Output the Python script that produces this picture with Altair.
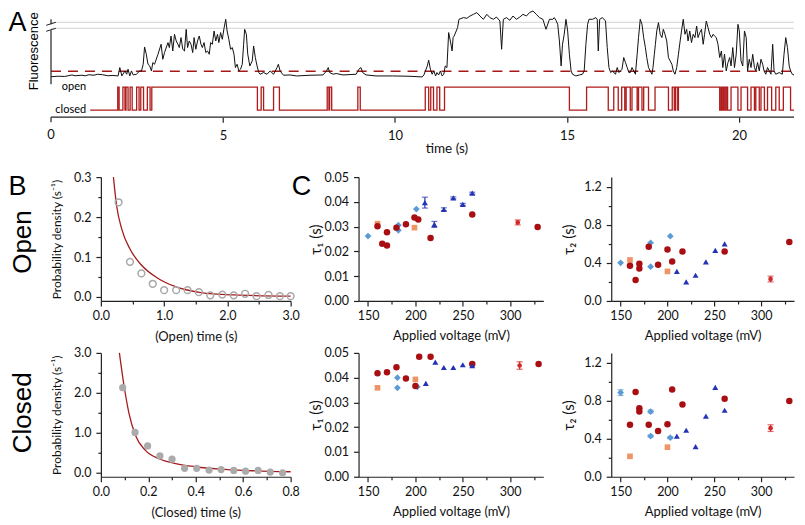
import altair as alt
import pandas as pd

# ---------------- Panel A: fluorescence trace (arbitrary units) ----------------
fluo_t = [0.00,0.20,0.40,0.61,0.70,0.90,1.00,1.10,1.25,1.35,
          1.50,1.65,1.80,1.95,2.00,2.06,2.15,2.20,2.24,2.29,
          2.34,2.39,2.48,2.58,2.63,2.68,2.72,2.77,2.82,2.87,
          2.92,2.96,3.01,3.11,3.20,3.25,3.30,3.40,3.44,3.49,
          3.54,3.59,3.64,3.69,3.73,3.78,3.83,3.88,3.93,3.97,
          4.02,4.07,4.12,4.16,4.21,4.26,4.31,4.36,4.40,4.45,
          4.50,4.55,4.60,4.64,4.69,4.74,4.79,4.84,4.88,4.93,
          4.98,5.03,5.08,5.12,5.17,5.22,5.27,5.32,5.36,5.41,
          5.46,5.51,5.56,5.60,5.63,5.68,5.72,5.78,5.85,5.89,
          5.94,5.99,6.04,6.08,6.18,6.28,6.37,6.47,6.57,6.61,
          6.66,6.76,6.95,7.14,7.53,7.91,8.01,8.06,8.10,8.20,
          8.29,8.49,8.87,8.95,9.01,9.06,9.16,9.45,9.93,10.41,
          10.79,
          10.84,10.94,10.98,11.03,11.08,11.13,11.18,11.22,11.27,11.32,
          11.37,11.42,11.46,11.51,11.56,11.61,11.66,11.69,11.72,11.78,
          11.82,11.86,11.99,12.09,12.18,12.28,12.38,12.47,12.57,12.67,
          12.76,12.86,12.95,13.05,13.10,13.15,13.24,13.34,13.43,13.53,
          13.63,13.72,13.82,13.91,14.01,14.11,14.20,14.30,14.39,14.49,
          14.59,14.63,14.68,14.73,14.78,14.83,14.87,14.92,14.97,15.02,
          15.07,15.12,15.16,15.26,15.36,15.45,15.50,15.55,15.60,15.64,
          15.74,15.84,15.88,15.91,15.95,16.03,16.12,16.17,16.22,16.27,
          16.32,16.41,16.46,16.51,16.60,16.65,16.70,16.75,16.80,16.84,
          16.89,16.99,17.04,17.08,17.13,17.18,17.23,17.28,17.32,17.37,
          17.42,17.47,17.50,17.54,17.57,17.61,17.66,17.71,17.76,17.80,
          17.85,17.90,17.95,18.00,18.05,18.09,18.14,18.19,18.24,18.29,
          18.33,18.38,18.43,18.48,18.52,18.57,18.62,18.67,18.72,18.77,
          18.81,18.86,18.91,18.96,19.00,19.05,19.10,19.15,19.20,19.25,
          19.29,19.34,19.39,19.44,19.49,19.53,19.58,19.63,19.68,19.73,
          19.77,19.82,19.87,19.92,19.97,20.01,20.06,20.11,20.16,20.21,
          20.25,20.30,20.35,20.40,20.45,20.49,20.54,20.59,20.64,20.69,
          20.73,20.78,20.83,20.93,20.98,21.02,21.07,21.17,21.26,21.31,
          21.36,21.41,21.46,21.50,21.55,21.60]
fluo_f = [40.5,41.0,40.8,42.3,41.5,42.0,41.5,42.5,42.0,43.0,
          42.5,41.5,41.8,41.3,49.7,41.3,46.3,43.0,48.0,41.3,
          46.3,42.3,43.0,46.3,46.3,53.0,70.3,63.0,53.0,51.3,
          46.3,54.7,53.0,63.0,73.0,58.0,64.7,74.7,69.7,81.3,
          66.3,83.0,76.3,73.0,69.7,79.7,68.0,66.3,88.0,69.7,
          76.3,73.0,64.7,79.7,68.0,76.3,81.3,73.0,69.7,74.7,
          64.7,66.3,63.0,74.7,73.0,86.3,76.3,83.0,74.7,84.7,
          78.0,89.0,98.0,86.3,78.0,68.0,69.7,63.0,49.7,53.0,
          46.3,48.0,53.0,73.0,88.0,83.0,63.0,51.3,56.3,71.3,
          59.7,51.3,44.7,43.0,44.7,43.0,46.3,43.0,49.7,53.0,
          46.3,42.0,42.3,41.3,42.0,42.3,46.3,49.7,44.7,43.0,
          43.7,42.3,43.0,48.0,49.7,44.7,42.3,41.3,41.3,41.0,
          40.3,
          42.3,51.3,57.0,48.0,43.0,46.3,41.3,44.7,42.3,46.3,
          41.3,43.0,51.3,49.7,84.7,76.3,66.3,79.7,81.3,86.3,
          89.7,98.0,99.7,99.0,101.3,103.0,104.7,101.3,98.0,103.0,
          99.7,98.0,100.3,96.3,68.0,98.0,99.7,97.0,101.3,98.0,
          100.3,103.0,101.3,104.7,106.3,103.0,99.7,98.0,88.0,98.0,
          98.0,99.7,97.0,93.0,76.3,51.3,73.0,83.0,98.0,86.3,
          63.0,46.3,43.0,41.3,42.3,43.0,46.3,73.0,93.0,98.0,
          98.0,99.7,98.0,66.3,98.0,99.7,96.3,69.7,49.7,44.7,
          46.3,43.0,49.7,44.7,48.0,59.7,54.7,49.7,44.7,44.7,
          49.7,43.0,63.0,79.7,98.0,93.0,79.7,69.7,59.7,49.7,
          46.3,43.0,49.7,63.0,73.0,86.3,94.7,83.0,79.7,88.0,
          83.0,76.3,59.7,56.3,53.0,46.3,43.0,49.7,63.0,76.3,
          86.3,98.0,83.0,88.0,76.3,86.3,74.7,83.0,79.7,91.3,
          79.7,84.7,88.0,73.0,83.0,96.3,89.7,83.0,79.7,83.0,
          81.3,79.7,73.0,59.7,66.3,49.7,63.0,46.3,54.7,59.7,
          51.3,69.7,49.7,63.0,93.0,86.3,56.3,51.3,86.3,79.7,
          46.3,58.0,49.7,63.0,49.7,46.3,54.7,46.3,58.0,53.0,
          46.3,43.0,49.7,43.0,73.0,46.3,43.0,44.7,43.0,63.0,
          79.7,69.7,51.3,46.3,43.0,42.3]

# idealised open/closed state (times in s)
state_start, state_end = 1.14, 21.6
open_start = [1.94, 2.09, 2.18, 2.30, 2.49, 2.61, 2.80, 2.93, 6.11, 6.47, 8.03, 8.10, 8.92,
              10.88, 11.04, 11.22, 11.44, 15.57, 16.36, 16.59, 16.72, 16.89, 17.08, 17.23,
              17.56, 18.06, 18.16, 18.24, 19.48, 19.55, 19.63, 19.77, 20.06, 20.35, 20.49,
              20.64, 20.83, 21.07, 21.29]
open_end = [1.98, 2.15, 2.24, 2.36, 2.56, 2.69, 2.88, 6.00, 6.18, 6.64, 8.08, 8.16, 8.99,
            10.98, 11.12, 11.30, 15.07, 16.20, 16.49, 16.68, 16.84, 17.04, 17.18, 17.37,
            17.95, 18.12, 18.22, 19.44, 19.51, 19.59, 19.67, 19.97, 20.25, 20.45, 20.59,
            20.74, 20.95, 21.17, 21.50]
closed_level, open_level = 7, 30
threshold_level = 46
break_levels = [89, 95]
time_ticks = [0, 5, 10, 15, 20]
t_end = 21.6

# ---------------- Panel B: dwell-time histograms ----------------
open_bin_t = [0.28, 0.46, 0.64, 0.82, 1.00, 1.19, 1.37, 1.55, 1.73, 1.92, 2.10, 2.28, 2.46, 2.65, 2.83, 3.00]
open_bin_p = [0.237, 0.088, 0.059, 0.033, 0.017, 0.017, 0.017, 0.012, 0.004, 0.006, 0.004, 0.008, 0.002, 0.005, 0.002, 0.002]
open_fit_t = [0.198, 0.25, 0.33, 0.46, 0.64, 0.90, 1.16, 1.58, 2.10, 3.00]
open_fit_p = [0.300, 0.227, 0.170, 0.120, 0.080, 0.047, 0.027, 0.011, 0.005, 0.002]

closed_bin_t = [0.092, 0.144, 0.197, 0.249, 0.300, 0.353, 0.404, 0.456, 0.507, 0.560, 0.610, 0.663, 0.714, 0.766]
closed_bin_p = [2.13, 1.01, 0.67, 0.42, 0.34, 0.11, 0.11, 0.066, 0.08, 0.057, 0.04, 0.057, 0.016, 0.0]
closed_fit_t = [0.078, 0.096, 0.118, 0.146, 0.188, 0.245, 0.316, 0.40, 0.50, 0.64, 0.80]
closed_fit_p = [3.0, 2.24, 1.5, 0.93, 0.56, 0.35, 0.23, 0.15, 0.09, 0.05, 0.025]

# ---------------- Panel C: time constants vs voltage ----------------
# open tau1
o1_lb_v = [150, 182, 182, 201]; o1_lb_y = [0.0262, 0.0306, 0.0285, 0.0371]
o1_or_v = [160, 199]; o1_or_y = [0.0312, 0.0296]
o1_dr_v = [160, 165, 170, 170, 180, 190, 199, 203, 216, 260, 329]
o1_dr_y = [0.0302, 0.0231, 0.0224, 0.0277, 0.0296, 0.0310, 0.0337, 0.0329, 0.0254, 0.0349, 0.0299]
o1_bl_v = [210, 220, 230, 240, 250, 260]; o1_bl_y = [0.0397, 0.0309, 0.0370, 0.0416, 0.0390, 0.0435]
o1_bl_e = [0.0022, 0.0012, 0.0006, 0.0004, 0.0004, 0.0004]
o1_rd_v = [308]; o1_rd_y = [0.0317]; o1_rd_e = [0.0010]
# open tau2
o2_lb_v = [150, 182, 182, 203]; o2_lb_y = [0.40, 0.61, 0.36, 0.68]
o2_or_v = [160, 200]; o2_or_y = [0.43, 0.31]
o2_dr_v = [160, 166, 170, 170, 180, 190, 200, 205, 216, 261, 330]
o2_dr_y = [0.37, 0.22, 0.39, 0.34, 0.57, 0.38, 0.54, 0.415, 0.52, 0.52, 0.62]
o2_bl_v = [210, 220, 230, 241, 251, 261]; o2_bl_y = [0.31, 0.20, 0.27, 0.41, 0.53, 0.60]
o2_rd_v = [310]; o2_rd_y = [0.23]; o2_rd_e = [0.03]
# closed tau1
c1_lb_v = [181, 181, 202]; c1_lb_y = [0.0400, 0.0359, 0.0363]
c1_or_v = [160, 200]; c1_or_y = [0.0359, 0.0393]
c1_dr_v = [160, 170, 180, 190, 200, 204, 216, 260, 330]
c1_dr_y = [0.0418, 0.0422, 0.0442, 0.0397, 0.0366, 0.0484, 0.0484, 0.0455, 0.0455]
c1_bl_v = [211, 221, 230, 240, 250, 260]; c1_bl_y = [0.0377, 0.0463, 0.0441, 0.0441, 0.0452, 0.0448]
c1_rd_v = [310]; c1_rd_y = [0.0449]; c1_rd_e = [0.0015]
# closed tau2
c2_lb_v = [150, 182, 182, 203]; c2_lb_y = [0.883, 0.684, 0.427, 0.41]
c2_lb_e = [0.03, 0.015, 0.01, 0.01]
c2_or_v = [160, 200]; c2_or_y = [0.214, 0.31]
c2_dr_v = [160, 166, 170, 170, 180, 190, 200, 205, 216, 261, 330]
c2_dr_y = [0.545, 0.89, 0.72, 0.684, 0.545, 0.48, 0.552, 0.915, 0.758, 0.819, 0.794]
c2_bl_v = [210, 220, 230, 241, 251, 261]; c2_bl_y = [0.427, 0.488, 0.317, 0.637, 0.937, 0.698]
c2_rd_v = [310]; c2_rd_y = [0.51]; c2_rd_e = [0.035]

# ---------------- styling ----------------
LF = "Lato"
BIG = "Liberation Sans"
RED_FIT = "#A51C1C"
STATE_RED = "#B01A1A"
COL = {"lb": "#5B9BD5", "or": "#EE9466", "dr": "#A90F12", "bl": "#2433B5", "rd": "#D22A2A"}
SHP = {"lb": "diamond", "or": "square", "dr": "circle", "bl": "triangle-up", "rd": "circle"}
SIZ = {"lb": 46, "or": 32, "dr": 42, "bl": 36, "rd": 22}
ROW_H = 124


def text_layer(txt, x, y, size, angle=0, align="left", baseline="alphabetic", font=BIG):
    return alt.Chart(pd.DataFrame({"txt": [txt]})).mark_text(
        align=align, baseline=baseline, angle=angle, fontSize=size, font=font, color="#000"
    ).encode(text="txt:N", x=alt.value(x), y=alt.value(y))


def major_test(step):
    return f"abs(datum.value/{step} - round(datum.value/{step})) < 1e-6"


def minor_axis(values, step, fmt, title, is_y, title_pos, title_size=13):
    kw = dict(titleX=title_pos, titleAlign="center", titleBaseline="middle") if is_y else \
        dict(titleY=title_pos, titleBaseline="middle")
    if step is None:
        kw.update(format=fmt, tickSize=5)
    else:
        test = major_test(step)
        kw.update(labelExpr=f"({test}) ? format(datum.value, '{fmt}') : ''",
                  tickSize={"condition": {"test": test, "value": 5}, "value": 3})
    return alt.Axis(values=values, title=title, labelOverlap=False, labelFlush=False,
                    titleFontSize=title_size, labelPadding=5 if is_y else 4, **kw)


# ---------------- Panel A ----------------
# plot area origin is aligned with panel B's plot; time axis starts left of it
A_D0, A_W = 1.45, 694
xA = alt.X("t:Q", scale=alt.Scale(domain=[A_D0, t_end], nice=False, zero=False),
           axis=alt.Axis(values=time_ticks, format="d", title="time (s)", tickSize=5, labelPadding=7,
                         labelFontSize=13, titleFontSize=13.5, labelFlush=False, labelOverlap=False,
                         domain=False, titleX=346, titleY=31, titleBaseline="middle", titleAlign="center"))
yA = alt.Y("f:Q", scale=alt.Scale(domain=[0, 108], nice=False, zero=False), axis=None)

st_t, st_f = [state_start], [closed_level]
for a, b in zip(open_start, open_end):
    st_t += [a, a, b, b]
    st_f += [closed_level, open_level, open_level, closed_level]
st_t.append(state_end)
st_f.append(closed_level)
state_df = pd.DataFrame({"t": st_t, "f": st_f, "i": list(range(len(st_t)))})
fluo_df = pd.DataFrame({"t": fluo_t, "f": fluo_f})

gray = alt.Chart(pd.DataFrame({"t": [0.0, 0.0], "t2": [t_end, t_end], "f": break_levels})).mark_rule(
    color="#d4d4d4", strokeWidth=1).encode(x=xA, x2="t2:Q", y=yA)
thr = alt.Chart(pd.DataFrame({"t": [0.0], "t2": [t_end], "f": [threshold_level]})).mark_rule(
    color="#A51818", strokeWidth=1.3, strokeDash=[10, 7]).encode(x=xA, x2="t2:Q", y=yA)
x_line = alt.Chart(pd.DataFrame({"t": [0.0], "t2": [t_end], "f": [0]})).mark_rule(
    color="#222", strokeWidth=1.2).encode(x=xA, x2="t2:Q", y=yA)
# tick and label for t = 0 (left of the plot origin)
zero_tick = alt.Chart(pd.DataFrame({"t": [0.0], "t2": [0.0], "f": [0], "f2": [-5]})).mark_rule(
    color="#222", strokeWidth=1.2).encode(x=xA, x2="t2:Q", y=yA, y2="f2:Q")
zero_lbl = alt.Chart(pd.DataFrame({"t": [0.0], "f": [-18], "lab": ["0"]})).mark_text(
    font=LF, fontSize=13, color="#111", baseline="middle", align="center").encode(x=xA, y=yA, text="lab:N")
fl = alt.Chart(fluo_df).mark_line(color="#111", strokeWidth=1).encode(x=xA, y=yA)
st = alt.Chart(state_df).mark_line(color=STATE_RED, strokeWidth=1.3).encode(x=xA, y=yA, order="i:Q")
yaxis_seg = alt.Chart(pd.DataFrame({"t": [0.0, 0.0], "t2": [0.0, 0.0], "f": [33, 93], "f2": [87, 98]})).mark_rule(
    color="#222", strokeWidth=1.2).encode(x=xA, x2="t2:Q", y=yA, y2="f2:Q")
slashes = alt.Chart(pd.DataFrame({"t": [-0.14, -0.14], "t2": [0.14, 0.14], "f": [86, 92], "f2": [89, 95]})).mark_rule(
    color="#222", strokeWidth=1).encode(x=xA, x2="t2:Q", y=yA, y2="f2:Q")
state_lbl = alt.Chart(pd.DataFrame({"t": [1.02, 1.02], "f": [open_level, closed_level], "lab": ["open", "closed"]})
                      ).mark_text(align="right", baseline="middle", font=LF, fontSize=11, color="#000").encode(
    x=xA, y=yA, text="lab:N")

panelA = alt.layer(
    gray, thr, x_line, zero_tick, zero_lbl, fl, st, yaxis_seg, slashes, state_lbl,
    text_layer("A", -92.6, 22, 27),
    text_layer("Fluorescence", -67, 42, 13, angle=270, align="center", baseline="middle"),
).properties(width=A_W, height=108)


# ---------------- Panel B ----------------
def b_panel(bt, bp, ft, fp, xdom, xvals, xstep, ydom, yvals, ystep, xtitle, filled, big_label, letter):
    x = alt.X("t:Q", scale=alt.Scale(domain=xdom, nice=False, zero=False),
              axis=minor_axis(xvals, xstep, ".1f", xtitle, False, 36))
    y = alt.Y("p:Q", scale=alt.Scale(domain=ydom, nice=False, zero=False),
              axis=minor_axis(yvals, ystep, ".1f", "Probability density (s⁻¹)", True, -44, 12))
    fit = alt.Chart(pd.DataFrame({"t": ft, "p": fp})).mark_line(
        color=RED_FIT, strokeWidth=1.3, interpolate="monotone").encode(x=x, y=y)
    if filled:
        pts = alt.Chart(pd.DataFrame({"t": bt, "p": bp})).mark_point(
            filled=True, color="#ABABAB", size=52, opacity=1).encode(x=x, y=y)
    else:
        pts = alt.Chart(pd.DataFrame({"t": bt, "p": bp})).mark_point(
            filled=False, color="#A8A8A8", size=46, strokeWidth=1.5, opacity=1).encode(x=x, y=y)
    layers = [fit, pts, text_layer(big_label[0], -70, big_label[1], 26, angle=270, align="center")]
    if letter:
        layers.append(text_layer(letter, -92.6, 18, 27))
    return alt.layer(*layers).properties(width=190, height=ROW_H)


Bo = b_panel(open_bin_t, open_bin_p, open_fit_t, open_fit_p, [0, 3], [0, 0.5, 1, 1.5, 2, 2.5, 3], 1,
             [-0.01, 0.3], [0, 0.05, 0.1, 0.15, 0.2, 0.25, 0.3], 0.1, "(Open) time (s)", False, ("Open", 65), "B")
Bc = b_panel(closed_bin_t, closed_bin_p, closed_fit_t, closed_fit_p, [0, 0.8],
             [0, 0.1, 0.2, 0.3, 0.4, 0.5, 0.6, 0.7, 0.8], 0.2,
             [-0.1, 3.0], [0, 0.5, 1, 1.5, 2, 2.5, 3], 1, "(Closed) time (s)", True, ("Closed", 60), None)


# ---------------- Panel C ----------------
def c_panel(groups, ydom, yvals, ystep, yfmt, ytitle, width, letter=None):
    x = alt.X("v:Q", scale=alt.Scale(domain=[140, 335], nice=False, zero=False),
              axis=minor_axis([150, 175, 200, 225, 250, 275, 300, 325], 50, "d", "Applied voltage (mV)", False, 35))
    ysc = alt.Scale(domain=ydom, nice=False, zero=False)
    yax = minor_axis(yvals, ystep, yfmt, ytitle, True, -43, 15)
    y = alt.Y("y:Q", scale=ysc, axis=yax)
    layers = []
    for key, v, yy, e in groups:
        df = pd.DataFrame({"v": v, "y": yy})
        if e is not None:
            df["lo"] = [a - b for a, b in zip(yy, e)]
            df["hi"] = [a + b for a, b in zip(yy, e)]
            base = alt.Chart(df)
            ylo = alt.Y("lo:Q", scale=ysc, axis=yax)
            yhi = alt.Y("hi:Q", scale=ysc, axis=yax)
            layers.append(base.mark_rule(color=COL[key], strokeWidth=1.2).encode(x=x, y=ylo, y2="hi:Q"))
            layers.append(base.mark_tick(color=COL[key], orient="horizontal", size=6, thickness=1.2).encode(
                x=x, y=ylo))
            layers.append(base.mark_tick(color=COL[key], orient="horizontal", size=6, thickness=1.2).encode(
                x=x, y=yhi))
        layers.append(alt.Chart(df).mark_point(filled=True, shape=SHP[key], color=COL[key], size=SIZ[key],
                                               opacity=1).encode(x=x, y=y))
    if letter:
        layers.append(text_layer(letter, -67, 18, 27))
    return alt.layer(*layers).properties(width=width, height=ROW_H)


T1_VALS = [0, 0.01, 0.02, 0.03, 0.04, 0.05]
T2_VALS = [0, 0.2, 0.4, 0.6, 0.8, 1.0, 1.2]
C1t = c_panel([("lb", o1_lb_v, o1_lb_y, None), ("or", o1_or_v, o1_or_y, None), ("dr", o1_dr_v, o1_dr_y, None),
               ("bl", o1_bl_v, o1_bl_y, o1_bl_e), ("rd", o1_rd_v, o1_rd_y, o1_rd_e)],
              [0, 0.05], T1_VALS, None, ".2f", "τ₁ (s)", 185, letter="C")
C2t = c_panel([("lb", o2_lb_v, o2_lb_y, None), ("or", o2_or_v, o2_or_y, None), ("dr", o2_dr_v, o2_dr_y, None),
               ("bl", o2_bl_v, o2_bl_y, None), ("rd", o2_rd_v, o2_rd_y, o2_rd_e)],
              [0, 1.3], T2_VALS, 0.4, ".1f", "τ₂ (s)", 183)
C1b = c_panel([("lb", c1_lb_v, c1_lb_y, None), ("or", c1_or_v, c1_or_y, None), ("dr", c1_dr_v, c1_dr_y, None),
               ("bl", c1_bl_v, c1_bl_y, None), ("rd", c1_rd_v, c1_rd_y, c1_rd_e)],
              [0, 0.05], T1_VALS, None, ".2f", "τ₁ (s)", 185)
C2b = c_panel([("lb", c2_lb_v, c2_lb_y, c2_lb_e), ("or", c2_or_v, c2_or_y, None), ("dr", c2_dr_v, c2_dr_y, None),
               ("bl", c2_bl_v, c2_bl_y, None), ("rd", c2_rd_v, c2_rd_y, c2_rd_e)],
              [0, 1.3], T2_VALS, 0.4, ".1f", "τ₂ (s)", 183)

lower = alt.concat(Bo, C1t, C2t, Bc, C1b, C2b, columns=3, bounds="flush",
                   spacing={"row": 52, "column": 68})

chart = alt.concat(panelA, lower, columns=1, align="none", spacing=16).properties(
    padding=0, background="white"
).configure_view(stroke=None).configure_axis(
    grid=False, domainColor="#222", tickColor="#222", labelColor="#111", titleColor="#111",
    labelFont=LF, titleFont=LF, labelFontSize=12.5, titleFontSize=13, titleFontWeight="normal",
    domainWidth=1.2, tickWidth=1.2
)

chart.save("out.html", embed_options={"renderer": "svg", "actions": False})
